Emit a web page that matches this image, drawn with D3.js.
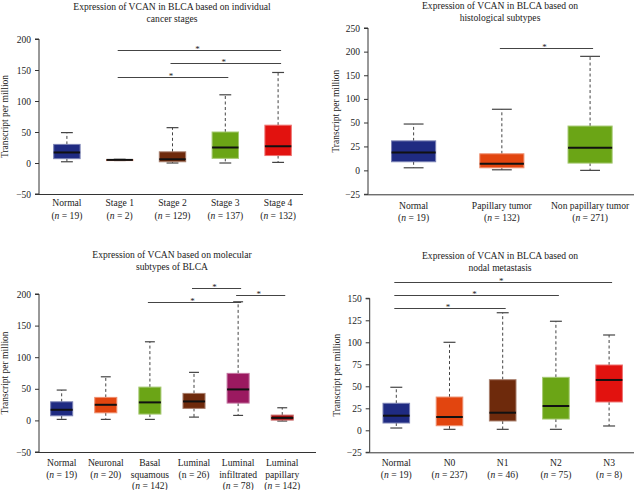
<!DOCTYPE html>
<html><head><meta charset="utf-8">
<script src="https://cdn.jsdelivr.net/npm/d3@7"></script>
<style>
html,body{margin:0;padding:0;background:#fff;}
svg{display:block;}
text{font-family:"Liberation Serif","Times New Roman",serif;fill:#222;}
</style></head>
<body>
<svg id="chart" width="634" height="490"></svg>
<script>
// ---------- DATA ----------
// Panel 1: individual cancer stages
const p1Title = ["Expression of VCAN in BLCA based on individual", "cancer stages"];
const p1Cats = ["Normal", "Stage 1", "Stage 2", "Stage 3", "Stage 4"];
const p1N = ["19", "2", "129", "137", "132"];
// [min, q1, median, q3, max]
const p1Stats = [[2, 7, 17, 30, 49], [4, 4.5, 5, 5.5, 6], [0, 2, 6, 18, 57], [0, 7.5, 25, 50, 110], [1, 12, 27, 61, 146]];
const p1Colors = ["#1f2b82", "#e2450f", "#6e2a0c", "#6ba516", "#e2120f"];
const p1Ticks = [-50, 0, 50, 100, 150, 200];
const p1Sig = [["Stage 1", "Stage 4", 183], ["Stage 2", "Stage 4", 161], ["Stage 1", "Stage 3", 139]];

// Panel 2: histological subtypes
const p2Title = ["Expression of VCAN in BLCA based on", "histological subtypes"];
const p2Cats = ["Normal", "Papillary tumor", "Non papillary tumor"];
const p2N = ["19", "132", "271"];
const p2Stats = [[2.7, 9, 18.7, 30.8, 48.4], [0.6, 2.7, 6.9, 17.3, 78], [0, 7.6, 23.5, 46.3, 190]];
const p2Colors = ["#1f2b82", "#e2450f", "#6ba516"];
const p2Ticks = [-25, 0, 25, 50, 100, 150, 200, 250];
const p2Sig = [["Papillary tumor", "Non papillary tumor", 208]];

// Panel 3: molecular subtypes
const p3Title = ["Expression of VCAN based on molecular", "subtypes of BLCA"];
const p3Cats = [["Normal"], ["Neuronal"], ["Basal", "squamous"], ["Luminal"], ["Luminal", "infiltrated"], ["Luminal", "papillary"]];
const p3N = ["19", "20", "142", "26", "78", "142"];
const p3Stats = [[1.6, 7.3, 16.8, 29.4, 48], [1.6, 12, 24.7, 36.4, 69], [1.6, 10, 28.5, 52.7, 124.4], [5.2, 19, 30, 42.7, 76], [7.9, 27.4, 49, 74.4, 187.7], [-1, 0.5, 4, 8.4, 20]];
const p3Colors = ["#1f2b82", "#e2450f", "#6ba516", "#6e2a0c", "#9b1960", "#a50c0c"];
const p3Ticks = [-50, 0, 50, 100, 150, 200];
const p3Sig = [[3, 4, 209], [4, 5, 198], [2, 4, 188]];

// Panel 4: nodal metastasis
const p4Title = ["Expression of VCAN in BLCA based on", "nodal metastasis"];
const p4Cats = ["Normal", "N0", "N1", "N2", "N3"];
const p4N = ["19", "237", "46", "75", "8"];
const p4Stats = [[2.6, 8.3, 16.6, 30.7, 48.9], [1.1, 5.2, 15.1, 37.8, 100], [1.1, 10.6, 20, 57.5, 133.6], [1.1, 12.8, 27.6, 60.2, 123.9], [4.9, 32.2, 57.2, 74.2, 108.3]];
const p4Colors = ["#1f2b82", "#e2450f", "#6e2a0c", "#6ba516", "#e2120f"];
const p4Ticks = [-25, 0, 25, 50, 75, 100, 125, 150];
const p4Sig = [["Normal", "N3", 168], ["Normal", "N2", 153.8], ["Normal", "N1", 139]];

const yLabel = "Transcript per million";

// ---------- DRAW ----------
const svg = d3.select("#chart");
svg.append("rect").attr("width", 634).attr("height", 490).attr("fill", "#fff");

function drawPanel(cfg) {
  const g = svg.append("g");
  const keys = cfg.cats.map((c, i) => i);
  const x = d3.scaleBand().domain(keys).range(cfg.xRange).padding(0);
  const y = d3.scaleLinear().domain(cfg.yDomain).range(cfg.yRange);
  const bw = x.bandwidth() * 0.5;
  const cx = i => x(i) + x.bandwidth() / 2;

  // title
  cfg.title.forEach((t, i) => {
    g.append("text").attr("x", cfg.titleX).attr("y", cfg.titleY + i * 12.3)
      .attr("text-anchor", "middle").attr("font-size", 9.6).text(t);
  });

  // y axis
  const yAxis = d3.axisLeft(y).tickValues(cfg.ticks).tickSize(4).tickPadding(4).tickFormat(d3.format("d"));
  const ga = g.append("g").attr("transform", `translate(${cfg.axisX},0)`).call(yAxis);
  ga.select(".domain").attr("stroke", "#333").attr("d", `M-4,${y(cfg.yDomain[cfg.yDomain.length-1])}H0V${y(cfg.yDomain[0])}H-4`);
  ga.selectAll(".tick line").attr("stroke", "#333");
  ga.selectAll(".tick text").attr("font-size", 9.5).attr("font-family", "Liberation Serif, serif").attr("fill", "#222")
    .text(d => d < 0 ? "\u2212" + Math.abs(d) : d);

  // x axis line
  g.append("line").attr("x1", cfg.axisX).attr("x2", cfg.xLineEnd)
    .attr("y1", y(cfg.yDomain[0]) + 0.5).attr("y2", y(cfg.yDomain[0]) + 0.5)
    .attr("stroke", "#333").attr("stroke-width", 1);

  // y label
  const ymid = (y(cfg.yDomain[0]) + y(cfg.yDomain[cfg.yDomain.length-1])) / 2;
  g.append("text").attr("transform", `translate(${cfg.yLabelX},${ymid}) rotate(-90)`)
    .attr("text-anchor", "middle").attr("font-size", 9.5).text(yLabel);

  // boxes
  cfg.stats.forEach((s, i) => {
    const c = cx(i);
    const col = cfg.colors[i];
    const light = d3.interpolateRgb(col, "#ffffff")(0.4);
    // whiskers dashed
    g.append("line").attr("x1", c).attr("x2", c).attr("y1", y(s[3])).attr("y2", y(s[4]))
      .attr("stroke", "#444").attr("stroke-dasharray", "3,2.5");
    g.append("line").attr("x1", c).attr("x2", c).attr("y1", y(s[1])).attr("y2", y(s[0]))
      .attr("stroke", "#444").attr("stroke-dasharray", "3,2.5");
    // caps
    const cw = bw * 0.45;
    [s[0], s[4]].forEach(v => {
      g.append("line").attr("x1", c - cw / 2).attr("x2", c + cw / 2).attr("y1", y(v)).attr("y2", y(v))
        .attr("stroke", "#444").attr("stroke-width", 1.2);
    });
    // box
    g.append("rect").attr("x", c - bw / 2).attr("width", bw)
      .attr("y", y(s[3])).attr("height", Math.max(1, y(s[1]) - y(s[3])))
      .attr("fill", col).attr("stroke", light).attr("stroke-width", 1);
    // median
    g.append("line").attr("x1", c - bw / 2).attr("x2", c + bw / 2).attr("y1", y(s[2])).attr("y2", y(s[2]))
      .attr("stroke", "#111").attr("stroke-width", 2);
  });

  // x labels
  cfg.cats.forEach((cat, i) => {
    const lines = Array.isArray(cat) ? cat : [cat];
    const c = cx(i);
    lines.forEach((ln, j) => {
      g.append("text").attr("x", c).attr("y", cfg.labelY + j * cfg.labelDy)
        .attr("text-anchor", "middle").attr("font-size", 9.6).text(ln);
    });
    const t = g.append("text").attr("x", c).attr("y", cfg.labelY + lines.length * cfg.labelDy)
      .attr("text-anchor", "middle").attr("font-size", 9.6);
    t.append("tspan").text("(");
    t.append("tspan").attr("font-style", cfg.romanN && cfg.romanN.includes(i) ? "normal" : "italic").text("n");
    t.append("tspan").text(" = " + cfg.n[i] + ")");
  });

  // significance bars
  cfg.sig.forEach(sg => {
    const a = typeof sg[0] === "number" ? sg[0] : cfg.cats.indexOf(sg[0]);
    const b = typeof sg[1] === "number" ? sg[1] : cfg.cats.indexOf(sg[1]);
    const x1 = cx(a) - 2, x2 = cx(b) + 3;
    const yy = Math.round(y(sg[2])) + 0.5;
    g.append("line").attr("x1", x1).attr("x2", x2).attr("y1", yy).attr("y2", yy)
      .attr("stroke", "#444").attr("stroke-width", 1);
    g.append("text").attr("x", (x1 + x2) / 2 - 2).attr("y", yy + 1.5)
      .attr("text-anchor", "middle").attr("font-size", 9).attr("fill", "#555").text("*");
  });
}

drawPanel({
  title: p1Title, titleX: 172, titleY: 10,
  cats: p1Cats, n: p1N, stats: p1Stats, colors: p1Colors, ticks: p1Ticks, sig: p1Sig,
  xRange: [40.5, 304.5], yDomain: [-50, 200], yRange: [194, 39],
  axisX: 39, xLineEnd: 303, yLabelX: 8, labelY: 206, labelDy: 13.4
});
drawPanel({
  title: p2Title, titleX: 500, titleY: 9,
  cats: p2Cats, n: p2N, stats: p2Stats, colors: p2Colors, ticks: p2Ticks, sig: p2Sig,
  xRange: [369.5, 634.2], yDomain: [-25, 50, 250], yRange: [194.3, 122.5, 28],
  axisX: 368, xLineEnd: 634, yLabelX: 338.5, labelY: 208.5, labelDy: 12.4
});
drawPanel({
  title: p3Title, titleX: 172, titleY: 258,
  cats: p3Cats, n: p3N, stats: p3Stats, colors: p3Colors, ticks: p3Ticks, sig: p3Sig, romanN: [3],
  xRange: [39.6, 304.3], yDomain: [-50, 200], yRange: [452, 294],
  axisX: 39, xLineEnd: 316, yLabelX: 8, labelY: 466, labelDy: 11.5
});
drawPanel({
  title: p4Title, titleX: 500, titleY: 258.5,
  cats: p4Cats, n: p4N, stats: p4Stats, colors: p4Colors, ticks: p4Ticks, sig: p4Sig,
  xRange: [369.7, 635.7], yDomain: [-25, 150], yRange: [452.3, 298.3],
  axisX: 369.7, xLineEnd: 634, yLabelX: 340, labelY: 466, labelDy: 12
});
</script>
</body></html>
